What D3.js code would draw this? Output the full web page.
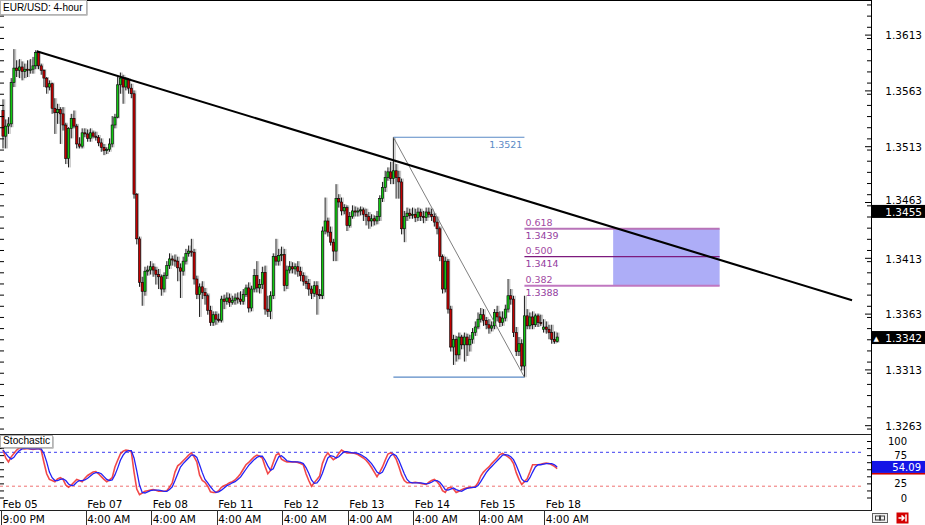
<!DOCTYPE html>
<html><head><meta charset="utf-8">
<script src="https://cdn.jsdelivr.net/npm/d3@7"></script>
<style>
html,body{margin:0;padding:0;background:#fff;}
svg{display:block;}
</style></head><body>
<svg id="chart" width="925" height="525"></svg>
<script>
// ---------------- DATA ----------------
const chartTitle = "EUR/USD: 4-hour";
const indicatorTitle = "Stochastic";

const openP = [
1.3545,1.3522,1.3531,1.3533,1.3570,1.3583,1.3581,1.3584,1.3580,1.3582,
1.3581,1.3582,1.3585,1.3597,1.3585,1.3581,1.3574,1.3566,1.3569,1.3547,
1.3543,1.3546,1.3542,1.3532,1.3502,1.3529,1.3538,1.3531,1.3515,1.3513,
1.3525,1.3524,1.3520,1.3525,1.3522,1.3521,1.3516,1.3512,1.3509,1.3510,
1.3515,1.3532,1.3539,1.3568,1.3574,1.3566,1.3573,1.3565,1.3560,1.3470,
1.3430,1.3391,1.3383,1.3401,1.3402,1.3405,1.3402,1.3398,1.3396,1.3385,
1.3397,1.3406,1.3412,1.3411,1.3410,1.3404,1.3401,1.3410,1.3417,1.3419,
1.3418,1.3394,1.3380,1.3387,1.3382,1.3379,1.3366,1.3355,1.3362,1.3358,
1.3357,1.3376,1.3374,1.3377,1.3373,1.3375,1.3377,1.3376,1.3374,1.3380,
1.3386,1.3368,1.3385,1.3397,1.3386,1.3389,1.3400,1.3367,1.3365,1.3379,
1.3414,1.3410,1.3415,1.3416,1.3388,1.3402,1.3405,1.3403,1.3405,1.3401,
1.3397,1.3392,1.3390,1.3385,1.3381,1.3388,1.3380,1.3379,1.3437,1.3446,
1.3436,1.3427,1.3419,1.3466,1.3463,1.3455,1.3458,1.3442,1.3450,1.3455,
1.3454,1.3455,1.3456,1.3452,1.3450,1.3446,1.3448,1.3446,1.3450,1.3466,
1.3476,1.3485,1.3490,1.3484,1.3491,1.3485,1.3481,1.3439,1.3450,1.3453,
1.3451,1.3452,1.3449,1.3454,1.3450,1.3449,1.3454,1.3452,1.3450,1.3445,
1.3439,1.3414,1.3385,1.3410,1.3367,1.3333,1.3340,1.3326,1.3342,1.3335,
1.3342,1.3335,1.3340,1.3346,1.3351,1.3358,1.3362,1.3357,1.3353,1.3350,
1.3352,1.3364,1.3360,1.3355,1.3359,1.3367,1.3379,1.3376,1.3346,1.3329,
1.3336,1.3316,1.3361,1.3352,1.3360,1.3353,1.3361,1.3355,1.3349,1.3351,
1.3349,1.3346,1.3340,1.3338];

const highP = [
1.3555,1.3537,1.3539,1.3574,1.3600,1.3590,1.3591,1.3589,1.3587,1.3590,
1.3591,1.3593,1.3599,1.3598,1.3587,1.3582,1.3575,1.3572,1.3570,1.3556,
1.3551,1.3548,1.3548,1.3534,1.3530,1.3542,1.3545,1.3533,1.3521,1.3529,
1.3529,1.3528,1.3529,1.3527,1.3526,1.3523,1.3520,1.3515,1.3512,1.3520,
1.3540,1.3542,1.3575,1.3579,1.3577,1.3575,1.3574,1.3569,1.3563,1.3471,
1.3432,1.3396,1.3405,1.3406,1.3410,1.3408,1.3405,1.3403,1.3398,1.3400,
1.3410,1.3417,1.3415,1.3416,1.3414,1.3408,1.3414,1.3421,1.3424,1.3430,
1.3421,1.3397,1.3390,1.3392,1.3386,1.3381,1.3370,1.3365,1.3365,1.3363,
1.3379,1.3380,1.3382,1.3381,1.3379,1.3381,1.3382,1.3383,1.3385,1.3389,
1.3391,1.3388,1.3403,1.3410,1.3394,1.3405,1.3406,1.3379,1.3383,1.3417,
1.3430,1.3421,1.3423,1.3421,1.3406,1.3410,1.3409,1.3408,1.3410,1.3405,
1.3400,1.3397,1.3394,1.3388,1.3392,1.3392,1.3385,1.3441,1.3467,1.3449,
1.3441,1.3430,1.3479,1.3470,1.3467,1.3461,1.3460,1.3454,1.3460,1.3459,
1.3458,1.3459,1.3458,1.3457,1.3454,1.3452,1.3451,1.3455,1.3469,1.3481,
1.3491,1.3494,1.3499,1.3521,1.3497,1.3491,1.3484,1.3455,1.3458,1.3457,
1.3458,1.3457,1.3458,1.3457,1.3455,1.3458,1.3458,1.3457,1.3453,1.3450,
1.3441,1.3416,1.3414,1.3412,1.3370,1.3344,1.3343,1.3346,1.3344,1.3346,
1.3345,1.3344,1.3350,1.3356,1.3364,1.3368,1.3367,1.3360,1.3358,1.3356,
1.3367,1.3370,1.3365,1.3365,1.3371,1.3394,1.3385,1.3379,1.3351,1.3342,
1.3340,1.3379,1.3367,1.3364,1.3365,1.3363,1.3363,1.3362,1.3358,1.3356,
1.3353,1.3353,1.3347,1.3346];

const lowP = [
1.3511,1.3511,1.3524,1.3530,1.3566,1.3575,1.3574,1.3572,1.3574,1.3575,
1.3578,1.3578,1.3582,1.3582,1.3577,1.3566,1.3560,1.3563,1.3542,1.3524,
1.3533,1.3515,1.3527,1.3497,1.3494,1.3520,1.3529,1.3511,1.3511,1.3511,
1.3521,1.3517,1.3517,1.3520,1.3518,1.3513,1.3508,1.3505,1.3506,1.3508,
1.3512,1.3529,1.3538,1.3560,1.3551,1.3563,1.3560,1.3556,1.3466,1.3425,
1.3387,1.3370,1.3379,1.3397,1.3398,1.3396,1.3389,1.3385,1.3379,1.3382,
1.3394,1.3403,1.3406,1.3405,1.3392,1.3377,1.3397,1.3407,1.3414,1.3414,
1.3389,1.3376,1.3360,1.3376,1.3371,1.3362,1.3352,1.3352,1.3353,1.3355,
1.3355,1.3367,1.3371,1.3369,1.3371,1.3371,1.3372,1.3371,1.3371,1.3378,
1.3364,1.3365,1.3382,1.3382,1.3381,1.3385,1.3362,1.3360,1.3358,1.3376,
1.3406,1.3406,1.3410,1.3383,1.3385,1.3399,1.3399,1.3398,1.3396,1.3392,
1.3388,1.3385,1.3379,1.3376,1.3378,1.3362,1.3376,1.3376,1.3434,1.3432,
1.3424,1.3410,1.3410,1.3458,1.3451,1.3452,1.3437,1.3440,1.3448,1.3450,
1.3450,1.3451,1.3446,1.3442,1.3439,1.3441,1.3442,1.3443,1.3446,1.3463,
1.3472,1.3482,1.3479,1.3479,1.3466,1.3466,1.3434,1.3427,1.3446,1.3448,
1.3448,1.3445,1.3446,1.3446,1.3444,1.3446,1.3449,1.3446,1.3441,1.3434,
1.3410,1.3381,1.3382,1.3363,1.3329,1.3317,1.3320,1.3322,1.3331,1.3320,
1.3325,1.3329,1.3336,1.3343,1.3349,1.3355,1.3352,1.3349,1.3345,1.3347,
1.3349,1.3356,1.3351,1.3352,1.3356,1.3364,1.3371,1.3342,1.3325,1.3325,
1.3312,1.3306,1.3349,1.3349,1.3349,1.3351,1.3351,1.3352,1.3346,1.3345,
1.3340,1.3336,1.3336,1.3337];

const closeP = [
1.3522,1.3531,1.3533,1.3570,1.3583,1.3581,1.3584,1.3580,1.3582,1.3581,
1.3582,1.3585,1.3597,1.3585,1.3581,1.3574,1.3566,1.3569,1.3547,1.3543,
1.3546,1.3542,1.3532,1.3502,1.3529,1.3538,1.3531,1.3515,1.3513,1.3525,
1.3524,1.3520,1.3525,1.3522,1.3521,1.3516,1.3512,1.3509,1.3510,1.3515,
1.3532,1.3539,1.3568,1.3574,1.3566,1.3573,1.3565,1.3560,1.3470,1.3430,
1.3391,1.3383,1.3401,1.3402,1.3405,1.3402,1.3398,1.3396,1.3385,1.3397,
1.3406,1.3412,1.3411,1.3410,1.3404,1.3401,1.3410,1.3417,1.3419,1.3418,
1.3394,1.3380,1.3387,1.3382,1.3379,1.3366,1.3355,1.3362,1.3358,1.3357,
1.3376,1.3374,1.3377,1.3373,1.3375,1.3377,1.3376,1.3374,1.3380,1.3386,
1.3368,1.3385,1.3397,1.3386,1.3389,1.3400,1.3367,1.3365,1.3379,1.3414,
1.3410,1.3415,1.3416,1.3388,1.3402,1.3405,1.3403,1.3405,1.3401,1.3397,
1.3392,1.3390,1.3385,1.3381,1.3388,1.3380,1.3379,1.3437,1.3446,1.3436,
1.3427,1.3419,1.3466,1.3463,1.3455,1.3458,1.3442,1.3450,1.3455,1.3454,
1.3455,1.3456,1.3452,1.3450,1.3446,1.3448,1.3446,1.3450,1.3466,1.3476,
1.3485,1.3490,1.3484,1.3491,1.3485,1.3481,1.3439,1.3450,1.3453,1.3451,
1.3452,1.3449,1.3454,1.3450,1.3449,1.3454,1.3452,1.3450,1.3445,1.3439,
1.3414,1.3385,1.3410,1.3367,1.3333,1.3340,1.3326,1.3342,1.3335,1.3342,
1.3335,1.3340,1.3346,1.3351,1.3358,1.3362,1.3357,1.3353,1.3350,1.3352,
1.3364,1.3360,1.3355,1.3359,1.3367,1.3379,1.3376,1.3346,1.3329,1.3336,
1.3316,1.3361,1.3352,1.3360,1.3353,1.3361,1.3355,1.3354,1.3351,1.3349,
1.3346,1.3340,1.3338,1.3342];

const stochMain = [
84,70,63,72,78,84,88,87,86,87, 86,85,86,87,84,62,42,32,30,28,
33,35,32,22,18,22,27,32,30,28, 34,39,42,45,46,42,37,32,28,31,
35,54,66,77,82,84,83,81,45,15, 5,8,11,12,13,14,13,11,11,11,
12,18,26,45,56,60,65,70,75,79, 72,63,40,30,27,20,10,9,9,12,
18,21,23,26,28,31,36,42,50,58, 62,67,72,75,73,70,55,42,48,62,
75,78,68,65,63,63,63,63,62,60, 58,42,30,20,26,32,38,60,72,79,
72,67,70,78,84,81,79,79,79,78, 76,73,70,66,60,53,45,37,45,54,
66,77,79,76,68,55,40,30,26,26, 26,27,26,25,24,23,27,30,32,28,
22,12,9,17,18,15,9,11,14,16, 17,18,18,19,26,38,45,50,54,60,
65,70,76,78,75,72,68,60,44,32, 23,28,33,45,58,58,58,59,60,61,
60,58,55,51];

const stochSignal = [
84,78,72,68,71,78,83,86,87,87, 86,86,86,86,86,78,63,45,35,30,
30,32,33,30,24,21,22,27,30,30, 31,34,38,42,44,44,42,37,32,30,
31,40,52,66,75,81,83,83,70,47, 22,9,8,10,12,13,13,13,12,11,
11,14,19,30,42,54,60,65,70,75, 75,71,58,44,32,26,19,13,9,10,
13,17,21,23,26,28,32,36,43,50, 57,62,67,71,73,73,66,56,48,51,
62,72,74,70,65,64,63,63,63,62, 60,53,43,31,25,26,32,43,57,70,
74,73,70,72,77,81,81,80,79,79, 78,76,73,70,65,60,53,45,42,45,
55,66,74,77,74,66,54,42,32,27, 26,26,26,26,25,24,25,27,30,30,
27,21,14,13,15,17,14,12,11,14, 16,17,18,18,21,28,36,44,50,55,
60,65,70,75,76,75,72,67,57,45, 33,28,28,35,45,54,58,58,59,60,
60,60,58,54.09];

const priceTickLabels = [1.3263,1.3313,1.3363,1.3413,1.3463,1.3513,1.3563,1.3613];
const stochTickLabels = [0,25,75,100];
const stochLevels = [80,20];

const labelBars  = [0,31,55,79,103,127,151,175,199];
const dateLabels = ["Feb 05","Feb 07","Feb 08","Feb 11","Feb 12","Feb 13","Feb 14","Feb 15","Feb 18"];
const timeLabels = ["9:00 PM","4:00 AM","4:00 AM","4:00 AM","4:00 AM","4:00 AM","4:00 AM","4:00 AM","4:00 AM"];

const trendBars   = [12.35, 311];
const trendPrices = [1.3598, 1.3375];

const fibBars   = [143, 191];
const fibPrices = [1.3521, 1.3306];
const fibLevelNames  = ["0.618","0.500","0.382"];
const fibLevelPrices = [1.3439, 1.3414, 1.3388];
const fibLevelEndBar = 262.5;

const zoneBars   = [223.5, 262.5];
const zonePrices = [1.3439, 1.3388];

const markerPrice = 1.3455;
const lastPrice = 1.3342;
const stochLast = 54.09;

// ---------------- DRAW ----------------
const svg = d3.select("#chart");
const plotRight = 871, mainBottom = 434, subBottom = 510;
const AX = "DejaVu Sans, Verdana, sans-serif";
const TF = "Liberation Sans, Arial, sans-serif";

const x  = d3.scaleLinear().domain([0, 200]).range([3, 549]);
const y  = d3.scaleLinear().domain([1.3263, 1.3613]).range([425.2, 34.6]);
const ys = d3.scaleLinear().domain([0, 100]).range([497.5, 441]);

const bars = closeP.map((c, i) => ({i, o: openP[i], h: highP[i], l: lowP[i], c}));

const defs = svg.append("defs");
defs.append("clipPath").attr("id","clipMain").append("rect")
  .attr("x",0).attr("y",1).attr("width",plotRight).attr("height",mainBottom-1);
defs.append("clipPath").attr("id","clipSub").append("rect")
  .attr("x",0).attr("y",mainBottom+1).attr("width",plotRight).attr("height",subBottom-mainBottom-1);

svg.append("rect").attr("width",925).attr("height",525).attr("fill","#fff");

const gMain = svg.append("g").attr("clip-path","url(#clipMain)");

// zone rectangle
gMain.append("rect")
  .attr("x", x(zoneBars[0])).attr("y", y(zonePrices[0]))
  .attr("width", x(zoneBars[1]) - x(zoneBars[0]))
  .attr("height", y(zonePrices[1]) - y(zonePrices[0]))
  .attr("fill", "#adadf7");

// candle shadows (soft gray ghost)
gMain.append("g").selectAll("rect").data(bars).join("rect")
  .attr("x", d => x(d.i) + 0.9).attr("y", d => y(d.h))
  .attr("width", 1.4).attr("height", d => Math.max(1, y(d.l) - y(d.h)))
  .attr("fill", "#8a8a8a").attr("opacity", 0.5);

// wicks
gMain.append("g").selectAll("line").data(bars).join("line")
  .attr("x1", d => x(d.i)).attr("x2", d => x(d.i))
  .attr("y1", d => y(d.h)).attr("y2", d => y(d.l))
  .attr("stroke", "#000").attr("stroke-width", 0.9);

// bodies
gMain.append("g").selectAll("rect").data(bars).join("rect")
  .attr("x", d => x(d.i) - 1.1).attr("width", 2.2)
  .attr("y", d => y(Math.max(d.o, d.c)))
  .attr("height", d => Math.max(0.8, Math.abs(y(d.o) - y(d.c))))
  .attr("fill", d => d.c > d.o ? "#12c812" : (d.c < d.o ? "#c40000" : "#000"))
  .attr("stroke", "#000").attr("stroke-width", 0.6);

// fib tool: top & bottom lines, diagonal
const fibColor = "#5a8ac6";
gMain.append("g").selectAll("line").data(fibPrices).join("line")
  .attr("x1", x(fibBars[0])).attr("x2", x(fibBars[1]))
  .attr("y1", d => y(d)).attr("y2", d => y(d))
  .attr("stroke", fibColor).attr("stroke-width", 1.2);
gMain.append("line")
  .attr("x1", x(fibBars[0])).attr("y1", y(fibPrices[0]))
  .attr("x2", x(fibBars[1])).attr("y2", y(fibPrices[1]))
  .attr("stroke", "#707070").attr("stroke-width", 0.9);
gMain.append("text")
  .attr("x", x(fibBars[1]) - 2).attr("y", y(fibPrices[0]) + 11)
  .attr("text-anchor","end").attr("font-family",AX).attr("font-size",9.5)
  .attr("fill", fibColor).text(d3.format(".4f")(fibPrices[0]));

// fib levels
const lvlColors = ["#b873b8", "#7d1a7d", "#c077c0"];
const lvlWidths = [2, 1.3, 2];
const gLvl = gMain.append("g");
fibLevelPrices.forEach((p, k) => {
  gLvl.append("line")
    .attr("x1", x(fibBars[1])).attr("x2", x(fibLevelEndBar))
    .attr("y1", y(p)).attr("y2", y(p))
    .attr("stroke", lvlColors[k]).attr("stroke-width", lvlWidths[k]);
  gLvl.append("text").attr("x", x(fibBars[1]) + 1).attr("y", y(p) - 2.5)
    .attr("font-family",AX).attr("font-size",9.5).attr("fill","#a24aa2").text(fibLevelNames[k]);
  gLvl.append("text").attr("x", x(fibBars[1]) + 1).attr("y", y(p) + 10.5)
    .attr("font-family",AX).attr("font-size",9.5).attr("fill","#9440a0").text(d3.format(".4f")(p));
});

// trend line
gMain.append("line")
  .attr("x1", x(trendBars[0])).attr("y1", y(trendPrices[0]))
  .attr("x2", x(trendBars[1])).attr("y2", y(trendPrices[1]))
  .attr("stroke", "#000").attr("stroke-width", 2.1);

// ---- stochastic panel ----
const gSub = svg.append("g").attr("clip-path","url(#clipSub)");
gSub.selectAll("line.lvl").data(stochLevels).join("line").attr("class","lvl")
  .attr("x1", 0).attr("x2", 862).attr("y1", d => ys(d)).attr("y2", d => ys(d))
  .attr("stroke", (d,i) => i === 0 ? "#3c3cf0" : "#f07070")
  .attr("stroke-width", 1).attr("stroke-dasharray", "3,3");
const sLine = d3.line().x((d, i) => x(i)).y(d => ys(d));
gSub.append("path").datum(stochMain).attr("d", sLine)
  .attr("fill","none").attr("stroke","#f02828").attr("stroke-width",1.6).attr("opacity",0.85);
gSub.append("path").datum(stochSignal).attr("d", sLine)
  .attr("fill","none").attr("stroke","#2323f5").attr("stroke-width",1.3);

// date labels inside lower panel
svg.append("g").selectAll("text").data(labelBars).join("text")
  .attr("x", d => x(d) - 0.5).attr("y", 507.5)
  .attr("font-family", AX).attr("font-size", 10.5).attr("fill","#000")
  .text((d, i) => dateLabels[i]);

// panel borders
svg.append("line").attr("x1",0).attr("x2",plotRight).attr("y1",0.5).attr("y2",0.5).attr("stroke","#000");
svg.append("line").attr("x1",0).attr("x2",plotRight).attr("y1",mainBottom+0.5).attr("y2",mainBottom+0.5).attr("stroke","#202020");
svg.append("line").attr("x1",0).attr("x2",plotRight).attr("y1",subBottom+0.5).attr("y2",subBottom+0.5).attr("stroke","#202020");
svg.append("line").attr("x1",plotRight+0.5).attr("x2",plotRight+0.5).attr("y1",0).attr("y2",subBottom+1).attr("stroke","#000");

// time row with separators
const gTime = svg.append("g");
gTime.selectAll("line").data(labelBars).join("line")
  .attr("x1", d => Math.round(x(d)) - 1.5).attr("x2", d => Math.round(x(d)) - 1.5)
  .attr("y1", subBottom).attr("y2", 525).attr("stroke","#303030");
gTime.selectAll("text").data(labelBars).join("text")
  .attr("x", d => x(d) - 0.5).attr("y", 523)
  .attr("font-family", AX).attr("font-size", 10.5).attr("fill","#000")
  .text((d, i) => timeLabels[i]);

// ---- price axis (right) ----
const minorPrices = d3.range(13230, 13650, 10).map(v => v / 10000).filter(v => y(v) > 2 && y(v) < mainBottom - 2);
const gMinor = svg.append("g").attr("transform",`translate(${plotRight},0)`)
  .call(d3.axisRight(y).tickValues(minorPrices).tickSizeInner(-4).tickSizeOuter(0).tickFormat(""));
gMinor.select(".domain").remove();
const gPx = svg.append("g").attr("transform",`translate(${plotRight},0)`)
  .call(d3.axisRight(y).tickValues(priceTickLabels).tickSizeInner(-6).tickSizeOuter(0).tickFormat(d3.format(".4f")));
gPx.select(".domain").remove();
gPx.selectAll("text").attr("x", 51).attr("dy", d => Math.abs(d - markerPrice) < 0.0012 ? "0.1em" : "0.4em")
  .attr("text-anchor","end")
  .attr("font-family", AX).attr("font-size", 10.5).attr("fill","#000");

// mirrored ticks on the left edge
const gLeft = svg.append("g").attr("transform","translate(0,0)")
  .call(d3.axisLeft(y).tickValues(minorPrices).tickSizeInner(-4).tickSizeOuter(0).tickFormat(""));
gLeft.select(".domain").remove();

// ---- stochastic axis ----
const stMinor = d3.range(0, 101, 12.5);
const gSm = svg.append("g").attr("transform",`translate(${plotRight},0)`)
  .call(d3.axisRight(ys).tickValues(stMinor).tickSizeInner(-4).tickSizeOuter(0).tickFormat(""));
gSm.select(".domain").remove();
const gSl = svg.append("g").attr("transform",`translate(0,0)`)
  .call(d3.axisLeft(ys).tickValues(stMinor).tickSizeInner(-4).tickSizeOuter(0).tickFormat(""));
gSl.select(".domain").remove();
const gSt = svg.append("g").attr("transform",`translate(${plotRight},0)`)
  .call(d3.axisRight(ys).tickValues(stochTickLabels).tickSizeInner(0).tickSizeOuter(0).tickFormat(d3.format("d")));
gSt.select(".domain").remove();
gSt.selectAll("text").attr("x", 36).attr("dy","0.36em").attr("text-anchor","end")
  .attr("font-family", AX).attr("font-size", 10).attr("fill","#000");

// ---- value markers ----
function marker(yc, txt, fill, arrow) {
  const g = svg.append("g");
  g.append("rect").attr("x", plotRight + 1).attr("y", yc - 6).attr("width", 925 - plotRight - 1).attr("height", 13).attr("fill", fill);
  g.append("text").attr("x", 922).attr("y", yc + 4.6).attr("text-anchor","end")
    .attr("font-family", AX).attr("font-size", 10.5).attr("fill","#fff").text(txt);
  if (arrow) g.append("text").attr("x", 873.5).attr("y", yc + 3.6)
    .attr("font-family", AX).attr("font-size", 7).attr("fill","#fff").text("▲");
  return g;
}
marker(y(markerPrice), d3.format(".4f")(markerPrice), "#000", false);
marker(y(lastPrice), d3.format(".4f")(lastPrice), "#000", true);
const sm = svg.append("g");
sm.append("rect").attr("x", plotRight + 1).attr("y", ys(stochLast) - 6).attr("width", 925 - plotRight - 1).attr("height", 12).attr("fill","#1414e6");
sm.append("rect").attr("x", plotRight + 1).attr("y", ys(stochLast) + 6).attr("width", 925 - plotRight - 1).attr("height", 1.6).attr("fill","#d00000");
sm.append("text").attr("x", 921).attr("y", ys(stochLast) + 4)
  .attr("text-anchor","end").attr("font-family", AX).attr("font-size", 10).attr("fill","#fff")
  .text(d3.format(".2f")(stochLast));

// ---- label boxes ----
function labelBox(x0, y0, w, h, txt, fs) {
  const g = svg.append("g");
  g.append("rect").attr("x", x0 + 1.5).attr("y", y0 + 1.5).attr("width", w).attr("height", h).attr("fill","#8a8a8a");
  g.append("rect").attr("x", x0 + 0.5).attr("y", y0 + 0.5).attr("width", w).attr("height", h)
    .attr("fill","#fff").attr("stroke","#b4b4b4");
  g.append("text").attr("x", x0 + 3).attr("y", y0 + h - 3.2)
    .attr("font-family", TF).attr("font-size", fs).attr("fill","#000").text(txt);
}
labelBox(0, 0, 86, 14, chartTitle, 10);
labelBox(0, mainBottom + 1, 52, 12, indicatorTitle, 10.2);

// ---- bottom right buttons ----
const gb = svg.append("g");
gb.append("rect").attr("x", 872.5).attr("y", 513.5).attr("width", 15).attr("height", 9)
  .attr("fill","#f0f0f0").attr("stroke","#606060");
gb.append("rect").attr("x", 875.5).attr("y", 516).attr("width", 5).attr("height", 4).attr("fill","none").attr("stroke","#404040").attr("stroke-width",1);
gb.append("rect").attr("x", 879.5).attr("y", 516).attr("width", 5).attr("height", 4).attr("fill","none").attr("stroke","#404040").attr("stroke-width",1);
gb.append("rect").attr("x", 896.5).attr("y", 512.5).attr("width", 12).attr("height", 11).attr("fill","#d40000");
gb.append("path").attr("d","M898.5,518 h5 M901.5,515.5 l2.5,2.5 l-2.5,2.5 M906,514.5 v7")
  .attr("stroke","#fff").attr("stroke-width",1.5).attr("fill","none");
</script>
</body></html>
